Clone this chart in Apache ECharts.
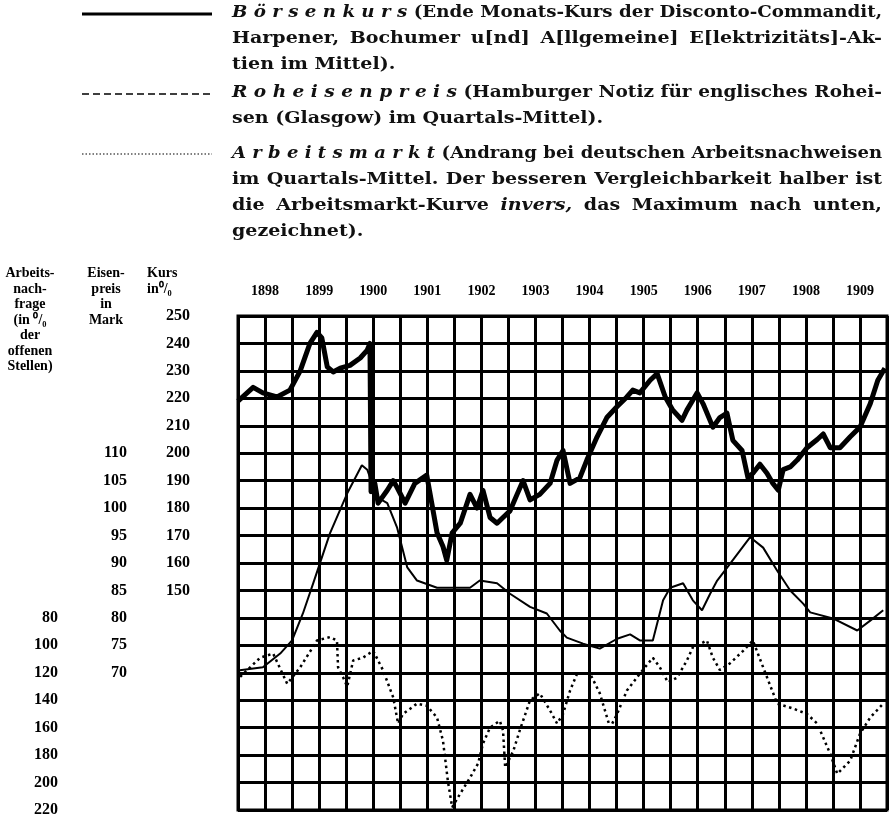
<!DOCTYPE html>
<html><head><meta charset="utf-8">
<script src="https://cdn.jsdelivr.net/npm/echarts@6/dist/echarts.min.js"></script>
<style>html,body{margin:0;padding:0;background:#fff}#c{width:896px;height:820px}</style>
</head><body><div id="c"></div>
<script>
// ---- data ----
const years = ['1898','1899','1900','1901','1902','1903','1904','1905','1906','1907','1908','1909'];
const kursTicks = [150,160,170,180,190,200,210,220,230,240,250];
const eisenTicks = [70,75,80,85,90,95,100,105,110];
const arbeitTicks = [80,100,120,140,160,180,200,220];
// Börsenkurs (Ende Monats-Kurs, %)
const boersenkurs = [
[1898.00,219],[1898.28,224],[1898.46,222],[1898.72,220.5],[1898.96,223],[1899.15,230],[1899.33,240],[1899.46,244],
[1899.55,242],[1899.65,231.5],[1899.76,229.6],[1899.89,231],[1900.07,232],[1900.26,234.7],[1900.39,237.6],[1900.44,240],
[1900.46,186],[1900.53,189],[1900.59,181.8],[1900.76,186.5],[1900.87,190],[1900.94,187.6],[1901.09,181.8],[1901.27,189],
[1901.49,192],[1901.68,171],[1901.79,166],[1901.86,161],[1901.96,171],[1902.11,174.5],[1902.29,185],[1902.42,180],
[1902.53,186.5],[1902.66,176.6],[1902.79,174.5],[1902.90,176.6],[1903.03,179],[1903.16,185],[1903.27,190],[1903.40,183],
[1903.58,185],[1903.77,189],[1903.90,197.5],[1904.01,201],[1904.14,189],[1904.32,191],[1904.45,197.5],[1904.64,206],
[1904.82,213],[1905.01,217],[1905.19,220.5],[1905.30,223],[1905.43,222],[1905.62,226.6],[1905.75,229],[1905.90,220.5],
[1906.04,215.7],[1906.21,212],[1906.30,215.7],[1906.49,222],[1906.60,218],[1906.78,209.5],[1906.91,213],[1907.04,214.6],
[1907.15,204.7],[1907.32,201],[1907.43,191],[1907.52,192.7],[1907.65,196],[1907.78,192.7],[1907.89,189],[1907.99,186.5],
[1908.08,194],[1908.21,195],[1908.34,197.5],[1908.52,202],[1908.71,205],[1908.82,207],[1908.95,202],[1909.13,202],
[1909.32,206],[1909.50,209.5],[1909.69,218],[1909.83,226.6],[1909.96,231]
];
// Roheisenpreis (Mark, Quartals-Mittel)
const roheisen = [
[1898.00,70.4],[1898.46,71],[1898.78,73.5],[1899.00,75.9],[1899.20,80.8],[1899.39,86.3],[1899.70,95.4],[1900.02,102.7],
[1900.29,107.8],[1900.39,107],[1900.57,102],[1900.76,100.9],[1900.94,96.5],[1901.13,89.2],[1901.31,86.8],[1901.68,85.5],
[1902.05,85.5],[1902.29,85.5],[1902.47,86.8],[1902.79,86.3],[1903.03,84.4],[1903.40,82],[1903.71,80.8],[1903.95,77.7],
[1904.08,76.4],[1904.38,75.3],[1904.69,74.4],[1905.01,76.2],[1905.25,77],[1905.43,75.9],[1905.67,75.9],[1905.86,83.2],
[1905.99,85.5],[1906.23,86.3],[1906.41,83.2],[1906.58,81.4],[1906.73,84.4],[1906.86,86.8],[1907.10,89.9],[1907.47,94.7],
[1907.71,92.8],[1907.97,88.6],[1908.21,85],[1908.45,82.6],[1908.58,81],[1909.00,79.9],[1909.45,77.7],[1909.69,79.5],[1909.93,81.4]
];
// Arbeitsmarkt (Arbeitsnachfrage in % der offenen Stellen, invers)
const arbeitsmarkt = [
[1898.04,123],[1898.41,109],[1898.65,106],[1898.91,128],[1899.15,116],[1899.46,96.5],[1899.70,94],[1899.83,96.5],
[1899.85,116],[1899.94,123],[1900.02,130],[1900.13,111],[1900.31,109],[1900.50,104],[1900.68,118],[1900.87,138],
[1900.96,157],[1901.05,150],[1901.31,142.5],[1901.49,144],[1901.68,152.6],[1901.79,169.5],[1901.88,198.7],[1901.96,218],
[1902.11,208],[1902.29,196.5],[1902.44,186],[1902.53,171.6],[1902.66,160],[1902.84,155],[1902.90,162],[1902.94,189],
[1903.09,177],[1903.21,162],[1903.40,140],[1903.58,135],[1903.77,147.5],[1903.90,157],[1904.01,150],[1904.14,133],
[1904.27,120.6],[1904.51,120.6],[1904.69,135],[1904.88,160],[1905.01,150],[1905.19,133],[1905.43,120.6],[1905.67,109],
[1905.80,116],[1905.95,127],[1906.12,123.5],[1906.30,111],[1906.41,101.5],[1906.67,96.5],[1906.78,109],[1906.91,118],
[1907.10,113],[1907.34,104],[1907.52,96.5],[1907.71,116],[1907.97,142.5],[1908.26,146],[1908.52,150],[1908.71,157],
[1908.95,179],[1909.08,193.6],[1909.32,184],[1909.50,164.5],[1909.69,152.6],[1909.93,142.5]
];

const numFont = {fontFamily:'Liberation Serif', fontWeight:'bold', fontSize:16, color:'#000'};
const TXT_FAMILY = 'DejaVu Serif';
const TXT_SIZE = 17;
const chart = echarts.init(document.getElementById('c'), null, {renderer:'canvas'});

function inList(list){ return v => list.indexOf(Math.round(v*100)/100) >= 0 ? String(v) : ''; }

// description text: tokens [text, italic]; j = justify
const textLines = [
  {y:13, j:true, w:[['B ö r s e n k u r s',1],['(Ende'],['Monats-Kurs'],['der'],['Disconto-Commandit,']]},
  {y:39, j:true, w:[['Harpener,'],['Bochumer'],['u[nd]'],['A[llgemeine]'],['E[lektrizitäts]-Ak-']]},
  {y:65, w:[['tien'],['im'],['Mittel).']]},
  {y:93, j:true, w:[['R o h e i s e n p r e i s',1],['(Hamburger'],['Notiz'],['für'],['englisches'],['Rohei-']]},
  {y:119, w:[['sen'],['(Glasgow)'],['im'],['Quartals-Mittel).']]},
  {y:154, j:true, w:[['A r b e i t s m a r k t',1],['(Andrang'],['bei'],['deutschen'],['Arbeitsnachweisen']]},
  {y:180, j:true, w:[['im'],['Quartals-Mittel.'],['Der'],['besseren'],['Vergleichbarkeit'],['halber'],['ist']]},
  {y:206, j:true, w:[['die'],['Arbeitsmarkt-Kurve'],['invers,',1],['das'],['Maximum'],['nach'],['unten,']]},
  {y:232, w:[['gezeichnet).']]}
];
const ctx = document.createElement('canvas').getContext('2d');
function fontStr(it){ return (it?'italic ':'') + 'bold ' + TXT_SIZE + 'px "' + TXT_FAMILY + '"'; }
function measure(t, it){ ctx.font = fontStr(it); return ctx.measureText(t).width; }
const X0 = 232, X1 = 882, SX = 1.12;
const graphics = [];
textLines.forEach(l => {
  const widths = l.w.map(w => measure(w[0], !!w[1]));
  const total = widths.reduce((a,b)=>a+b,0);
  const spaceW = measure(' ', false) * 1.1;
  const n = l.w.length;
  let s = SX;
  if (n > 1 && total * s + (n-1) * spaceW > X1 - X0) s = (X1 - X0 - (n-1) * spaceW) / total;
  let gap = spaceW;
  if (l.j && n > 1) gap = (X1 - X0 - total * s) / (n - 1);
  let x = X0;
  l.w.forEach((w, k) => {
    graphics.push({type:'text', x:x, y:l.y, scaleX:s, style:{text:w[0], font:fontStr(!!w[1]), fill:'#111', verticalAlign:'middle'}});
    x += widths[k] * s + gap;
  });
});
// legend samples
graphics.push({type:'line', shape:{x1:82,y1:14,x2:212,y2:14}, style:{stroke:'#000', lineWidth:3}});
graphics.push({type:'line', shape:{x1:82,y1:94,x2:212,y2:94}, style:{stroke:'#000', lineWidth:1.5, lineDash:[7,4]}});
graphics.push({type:'line', shape:{x1:82,y1:154,x2:212,y2:154}, style:{stroke:'#000', lineWidth:1.2, lineDash:[1.5,2]}});
// axis headers
const hdr = (x, y, txt, align) => graphics.push({type:'text', x:x, y:y, style:{text:txt, fontFamily:'Liberation Serif', fontWeight:'bold', fontSize:14, fill:'#000', align:align||'center', lineHeight:15.5, verticalAlign:'top'}});
hdr(30, 266, 'Arbeits-\nnach-\nfrage\n(in ⁰/₀\nder\noffenen\nStellen)');
hdr(106, 266, 'Eisen-\npreis\nin\nMark');
hdr(147, 266, 'Kurs\nin⁰/₀', 'left');

const thick = {color:'#000', width:3};
const option = {
  backgroundColor:'#fff',
  animation:false,
  grid:{left:238, top:316, width:649, height:494, show:true, borderColor:'#000', borderWidth:3, backgroundColor:'transparent'},
  xAxis:[
    {type:'value', min:1898, max:1910, interval:0.5, axisLine:{show:false}, axisTick:{show:false}, axisLabel:{show:false},
     splitLine:{show:true, lineStyle:thick}},
    {type:'category', position:'top', data:years, boundaryGap:true, axisLine:{show:false}, axisTick:{show:false},
     axisLabel:Object.assign({margin:18, interval:0}, numFont, {fontSize:14}), splitLine:{show:false}}
  ],
  yAxis:[
    {type:'value', min:70, max:250, interval:10, position:'left', offset:44, axisLine:{show:false}, axisTick:{show:false},
     axisLabel:Object.assign({margin:4, formatter:inList(kursTicks)}, numFont),
     splitLine:{show:true, lineStyle:thick}},
    {type:'value', min:45, max:135, interval:5, position:'left', offset:107, axisLine:{show:false}, axisTick:{show:false},
     axisLabel:Object.assign({margin:4, formatter:inList(eisenTicks)}, numFont), splitLine:{show:false}},
    {type:'value', min:-140, max:220, interval:20, inverse:true, position:'left', offset:176, axisLine:{show:false}, axisTick:{show:false},
     axisLabel:Object.assign({margin:4, formatter:inList(arbeitTicks)}, numFont), splitLine:{show:false}}
  ],
  series:[
    {name:'Börsenkurs', type:'line', xAxisIndex:0, yAxisIndex:0, data:boersenkurs, showSymbol:false, symbol:'none',
     lineStyle:{color:'#000', width:5, join:'round'}, z:5},
    {name:'Roheisenpreis', type:'line', xAxisIndex:0, yAxisIndex:1, data:roheisen, showSymbol:false, symbol:'none',
     lineStyle:{color:'#000', width:2}, z:4},
    {name:'Arbeitsmarkt', type:'line', xAxisIndex:0, yAxisIndex:2, data:arbeitsmarkt, showSymbol:false, symbol:'none',
     lineStyle:{color:'#000', width:2.5, type:[2.5,3.5]}, z:4}
  ],
  graphic:graphics
};
chart.setOption(option);
</script></body></html>
